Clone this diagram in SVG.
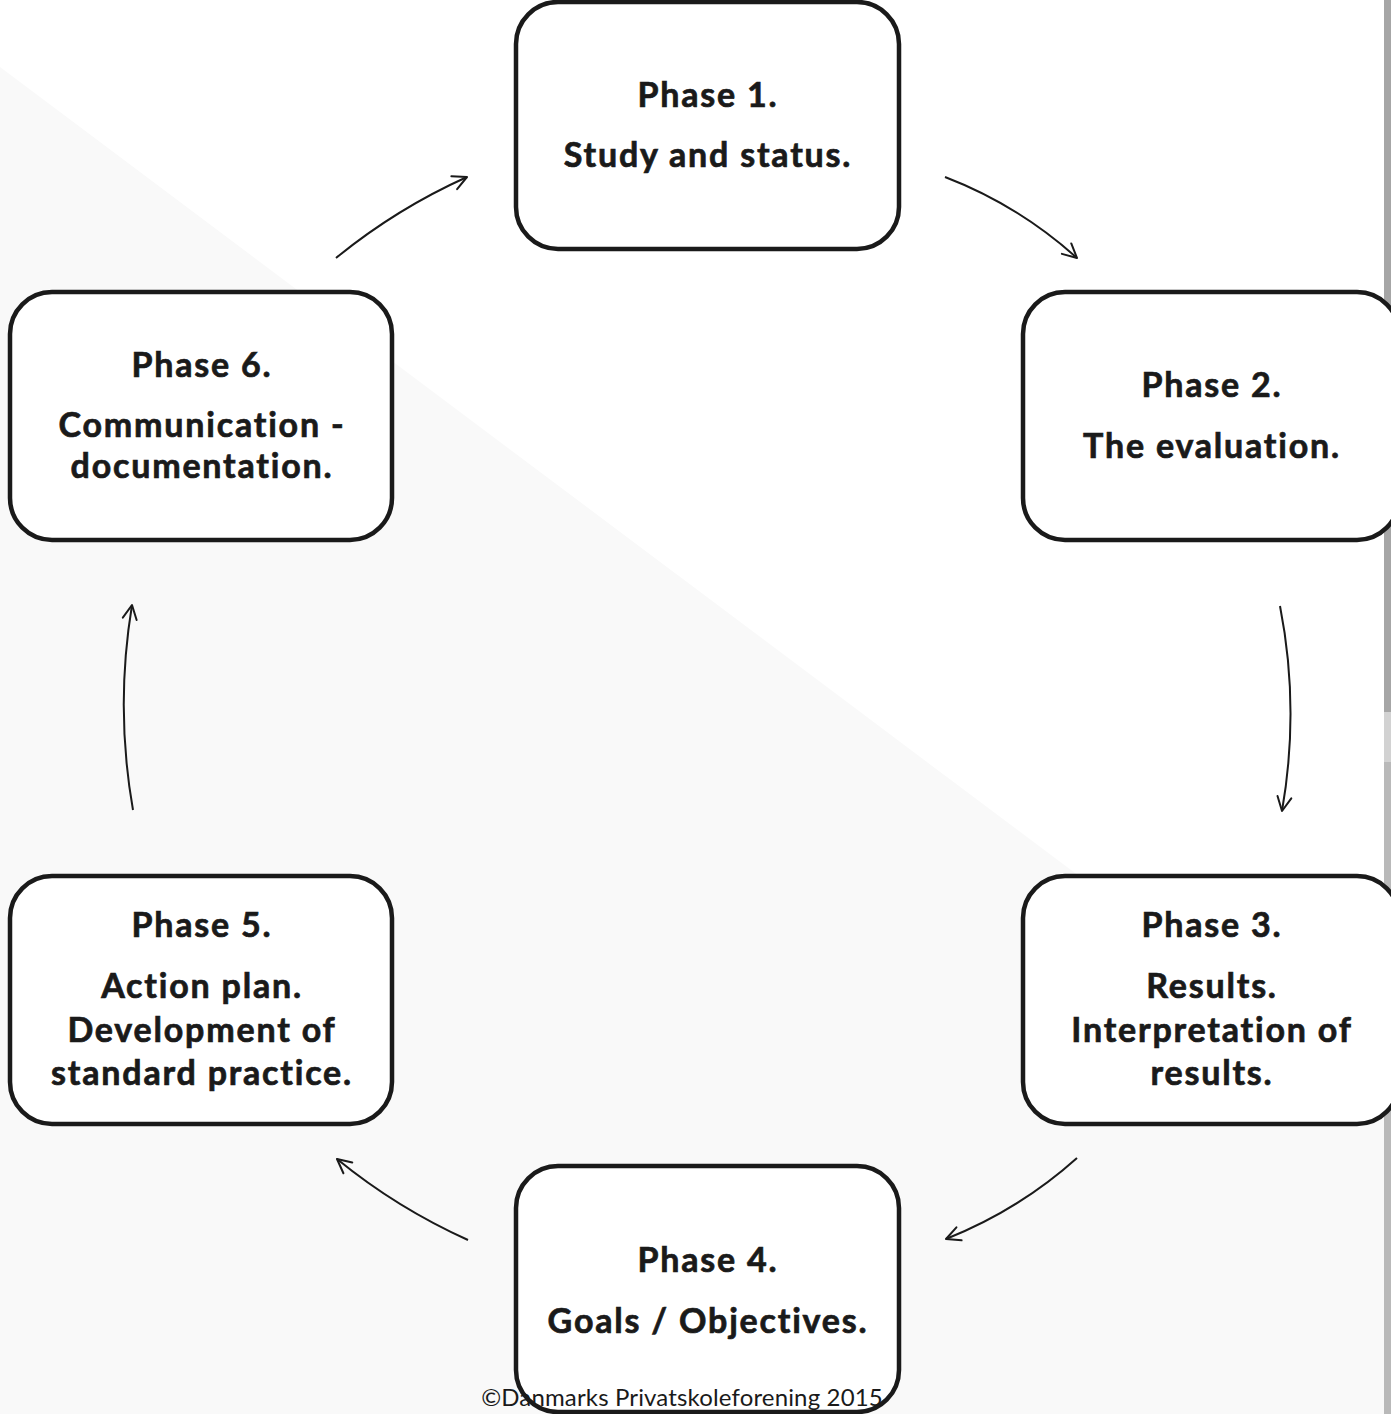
<svg xmlns="http://www.w3.org/2000/svg" width="1391" height="1414" viewBox="0 0 1391 1414">
  <style>
    .box { fill: #ffffff; stroke: #1a1a1a; stroke-width: 4.5; }
    .t { font-family: Lato, "Open Sans", "Liberation Sans", sans-serif; font-weight: 700; font-size: 34px; letter-spacing: 1.8px; fill: #1a1a1a; stroke: #1a1a1a; stroke-width: 0.7px; text-anchor: middle; }
    .copy { font-family: Lato, "Open Sans", "Liberation Sans", sans-serif; font-weight: 400; font-size: 24px; letter-spacing: 0.15px; fill: #1a1a1a; text-anchor: middle; }
    .arrow { fill: none; stroke: #1a1a1a; stroke-width: 2; marker-end: url(#head); }
  </style>
  <defs>
    <marker id="head" markerUnits="userSpaceOnUse" markerWidth="30" markerHeight="30" refX="0" refY="0" viewBox="-20 -15 30 30" orient="auto" overflow="visible">
      <path d="M-14,-7 L0,0 L-14,7" fill="none" stroke="#1a1a1a" stroke-width="2" stroke-linecap="round" stroke-linejoin="round"/>
    </marker>
  </defs>

  <!-- background -->
  <rect x="0" y="0" width="1391" height="1414" fill="#ffffff"/>
  <polygon points="0,67 1391,1110 1391,1414 0,1414" fill="#f9f9f9"/>
  <rect x="1384" y="0" width="7" height="712" fill="#a6a6a6"/>
  <rect x="1384" y="712" width="7" height="50" fill="#d2d2d2"/>
  <rect x="1384" y="762" width="7" height="652" fill="#b9b9b9"/>

  <g id="connectors">
    <path class="arrow" d="M336,258 Q396,209 467,177"/>
    <path class="arrow" d="M945,177 Q1018,205 1077,258"/>
    <path class="arrow" d="M1280,606 Q1300,708 1282,811"/>
    <path class="arrow" d="M1077,1158 Q1019,1210 946,1239"/>
    <path class="arrow" d="M468,1240 Q397,1208 337,1159"/>
    <path class="arrow" d="M133,810 Q115,708 132,605"/>
  </g>

  <g id="phase1">
    <rect class="box" x="516" y="2" width="383" height="247" rx="42"/>
    <text class="t" x="708" y="107">Phase 1.</text>
    <text class="t" x="708" y="167">Study and status.</text>
  </g>
  <g id="phase2">
    <rect class="box" x="1023" y="292" width="376" height="248" rx="42"/>
    <text class="t" x="1212" y="397">Phase 2.</text>
    <text class="t" x="1212" y="458">The evaluation.</text>
  </g>
  <g id="phase3">
    <rect class="box" x="1023" y="876" width="376" height="248" rx="42"/>
    <text class="t" x="1212" y="937">Phase 3.</text>
    <text class="t" x="1212" y="998">Results.</text>
    <text class="t" x="1212" y="1042">Interpretation of</text>
    <text class="t" x="1212" y="1085">results.</text>
  </g>
  <g id="phase4">
    <rect class="box" x="516" y="1166" width="383" height="246" rx="42"/>
    <text class="t" x="708" y="1272">Phase 4.</text>
    <text class="t" x="708" y="1333">Goals / Objectives.</text>
  </g>
  <g id="phase5">
    <rect class="box" x="10" y="876" width="382" height="248" rx="42"/>
    <text class="t" x="202" y="937">Phase 5.</text>
    <text class="t" x="202" y="998">Action plan.</text>
    <text class="t" x="202" y="1042">Development of</text>
    <text class="t" x="202" y="1085">standard practice.</text>
  </g>
  <g id="phase6">
    <rect class="box" x="10" y="292" width="382" height="248" rx="42"/>
    <text class="t" x="202" y="377">Phase 6.</text>
    <text class="t" x="202" y="437">Communication -</text>
    <text class="t" x="202" y="478">documentation.</text>
  </g>

  <text class="copy" x="682" y="1406">©Danmarks Privatskoleforening 2015</text>
</svg>
